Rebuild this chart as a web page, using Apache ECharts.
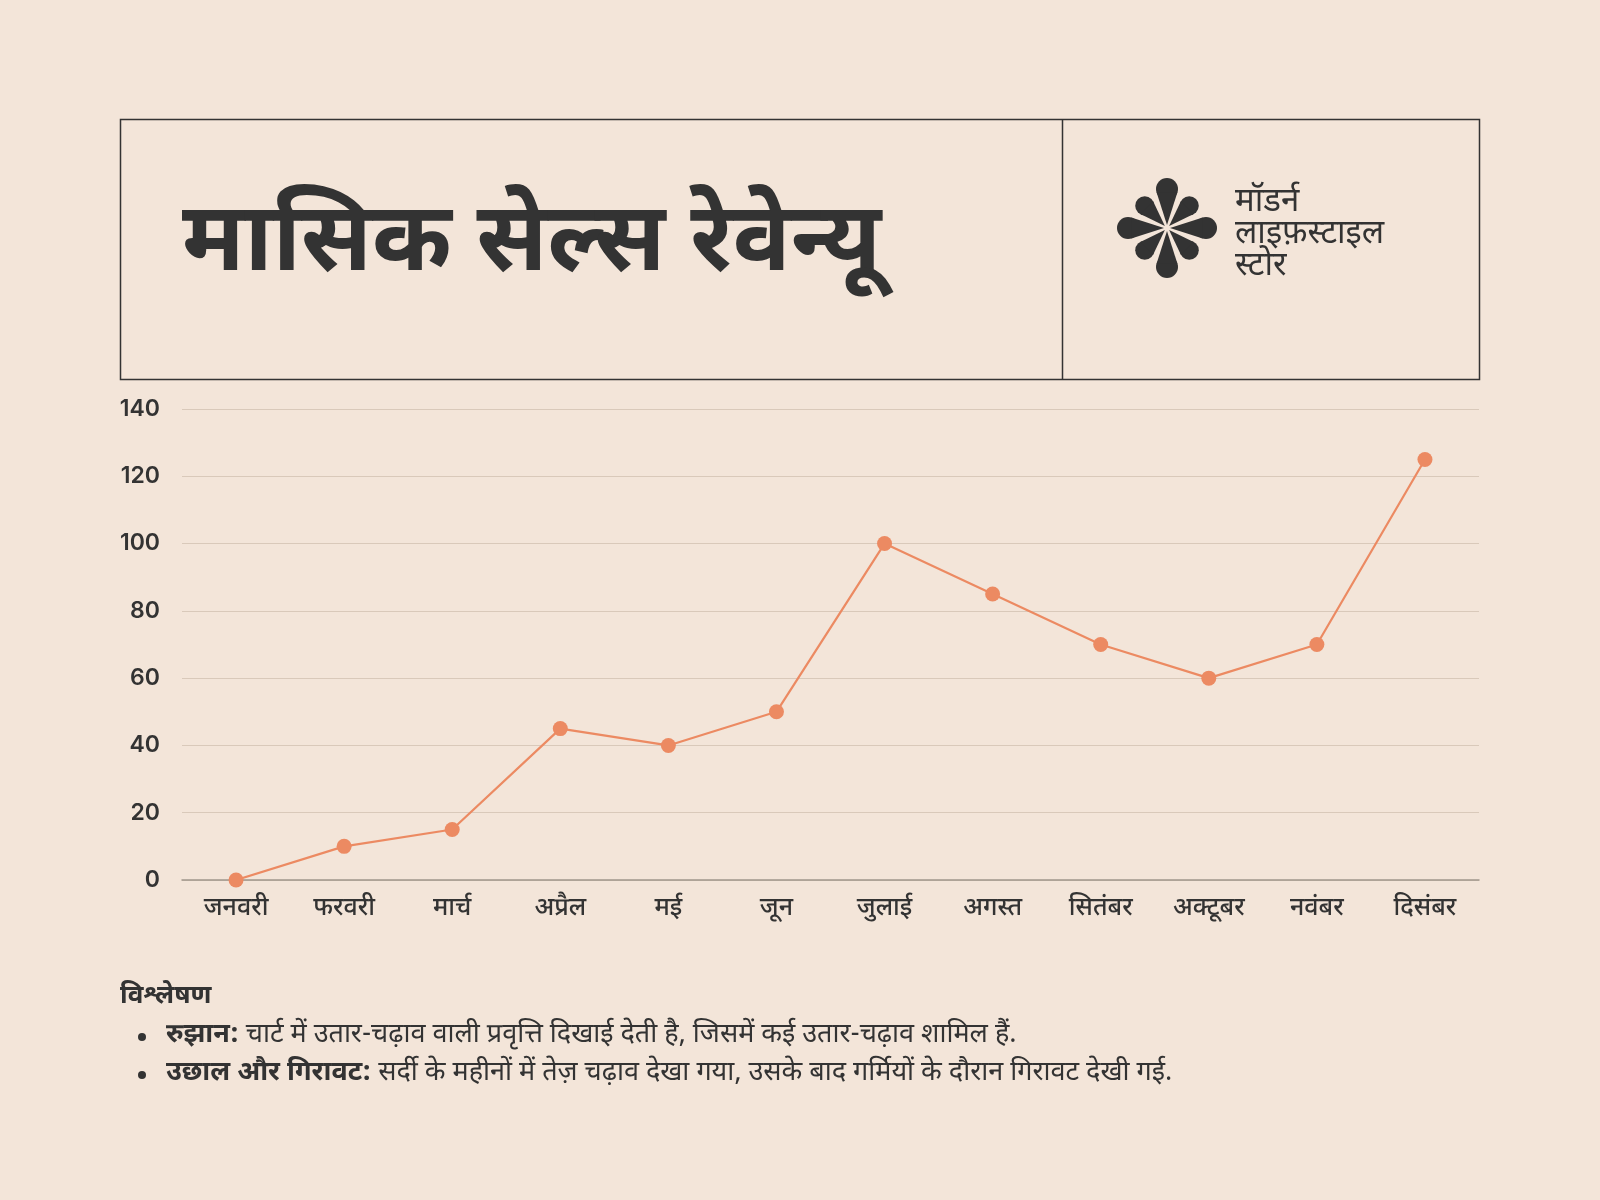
<!DOCTYPE html>
<html>
<head>
<meta charset="utf-8">
<title>मासिक सेल्स रेवेन्यू</title>
<script src="https://cdn.jsdelivr.net/npm/echarts@6/dist/echarts.min.js"></script>
<style>
  html, body { margin: 0; padding: 0; background: #f3e5d9; }
  #chart { width: 1600px; height: 1200px; }
</style>
</head>
<body>
<div id="chart"></div>
<script>
  // data
  var months = ['जनवरी', 'फरवरी', 'मार्च', 'अप्रैल', 'मई', 'जून', 'जुलाई', 'अगस्त', 'सितंबर', 'अक्टूबर', 'नवंबर', 'दिसंबर'];
  var revenue = [0, 10, 15, 45, 40, 50, 100, 85, 70, 60, 70, 125];
  var yTicks = [0, 140, 20];   // min, max, interval

  var titleText = 'मासिक सेल्स रेवेन्यू';
  var brandLines = ['मॉडर्न', 'लाइफ़स्टाइल', 'स्टोर'];
  var notesHead = 'विश्लेषण';
  var notes = [
    ['रुझान:', ' चार्ट में उतार-चढ़ाव वाली प्रवृत्ति दिखाई देती है, जिसमें कई उतार-चढ़ाव शामिल हैं.'],
    ['उछाल और गिरावट:', ' सर्दी के महीनों में तेज़ चढ़ाव देखा गया, उसके बाद गर्मियों के दौरान गिरावट देखी गई.']
  ];

  var ink = '#333333';
  var accent = '#ec8a62';
  var font = '"Noto Sans Devanagari", "Noto Sans", sans-serif';
  var numFont = 'Inter, "Noto Sans", sans-serif';

  // flower logo: 8 teardrops, each a circle plus a wedge back to the centre
  var cx = 1167, cy = 228;
  var logo = [];
  for (var i = 0; i < 8; i++) {
    var len = i % 2 === 0 ? 50 : 41;
    var r = i % 2 === 0 ? 11 : 9.5;
    var d = len - r;
    var a = i * Math.PI / 4;
    var ux = Math.cos(a), uy = Math.sin(a);
    var bx = cx + ux * d, by = cy + uy * d;
    logo.push({ type: 'circle', shape: { cx: bx, cy: by, r: r }, style: { fill: ink } });
    logo.push({ type: 'polygon',
      shape: { points: [[cx + ux * 3, cy + uy * 3],
        [bx - uy * r * 0.95 - ux * r * 0.3, by + ux * r * 0.95 - uy * r * 0.3],
        [bx + uy * r * 0.95 - ux * r * 0.3, by - ux * r * 0.95 - uy * r * 0.3]] },
      style: { fill: ink } });
  }

  var graphics = [
    { type: 'rect', shape: { x: 120.5, y: 119.5, width: 1359, height: 260 },
      style: { fill: 'none', stroke: ink, lineWidth: 1.5 } },
    { type: 'line', shape: { x1: 1062.5, y1: 119.5, x2: 1062.5, y2: 379.5 },
      style: { stroke: ink, lineWidth: 1.5 } },
    { type: 'text', x: 182, y: 252,
      style: { text: titleText, font: 'bold 96px ' + font, fill: ink, textVerticalAlign: 'middle' } }
  ].concat(logo);

  brandLines.forEach(function (t, k) {
    graphics.push({ type: 'text', x: 1235, y: 205 + k * 32,
      style: { text: t, font: '33px ' + font, fill: ink, textVerticalAlign: 'middle' } });
  });

  graphics.push({ type: 'text', x: 120, y: 998,
    style: { text: notesHead, font: 'bold 26px ' + font, fill: ink, textVerticalAlign: 'middle' } });
  notes.forEach(function (n, k) {
    var y = 1037 + k * 38;
    graphics.push({ type: 'circle', shape: { cx: 142, cy: y, r: 4 }, style: { fill: ink } });
    graphics.push({ type: 'text', x: 166, y: y,
      style: {
        text: '{b|' + n[0] + '}{r|' + n[1] + '}',
        textVerticalAlign: 'middle',
        rich: {
          b: { font: 'bold 27px ' + font, fill: ink },
          r: { font: '27px ' + font, fill: ink }
        }
      } });
  });

  var chart = echarts.init(document.getElementById('chart'));
  chart.setOption({
    backgroundColor: '#f3e5d9',
    animation: false,
    grid: { left: 182, right: 121, top: 409, bottom: 320 },
    xAxis: {
      type: 'category',
      data: months,
      boundaryGap: true,
      axisLine: { lineStyle: { color: '#a0968c', width: 1.5 } },
      axisTick: { show: false },
      axisLabel: { color: ink, fontSize: 25, fontWeight: 500, fontFamily: font, margin: 18 }
    },
    yAxis: {
      type: 'value',
      min: yTicks[0], max: yTicks[1], interval: yTicks[2],
      axisLine: { show: false },
      axisTick: { show: false },
      splitLine: { lineStyle: { color: '#d9c9ba', width: 1.2 } },
      axisLabel: { color: ink, fontSize: 23, fontWeight: 600, fontFamily: numFont, margin: 22 }
    },
    series: [{
      type: 'line',
      data: revenue,
      symbol: 'circle',
      symbolSize: 15,
      lineStyle: { color: accent, width: 2.2 },
      itemStyle: { color: accent }
    }],
    graphic: graphics
  });
</script>
</body>
</html>
